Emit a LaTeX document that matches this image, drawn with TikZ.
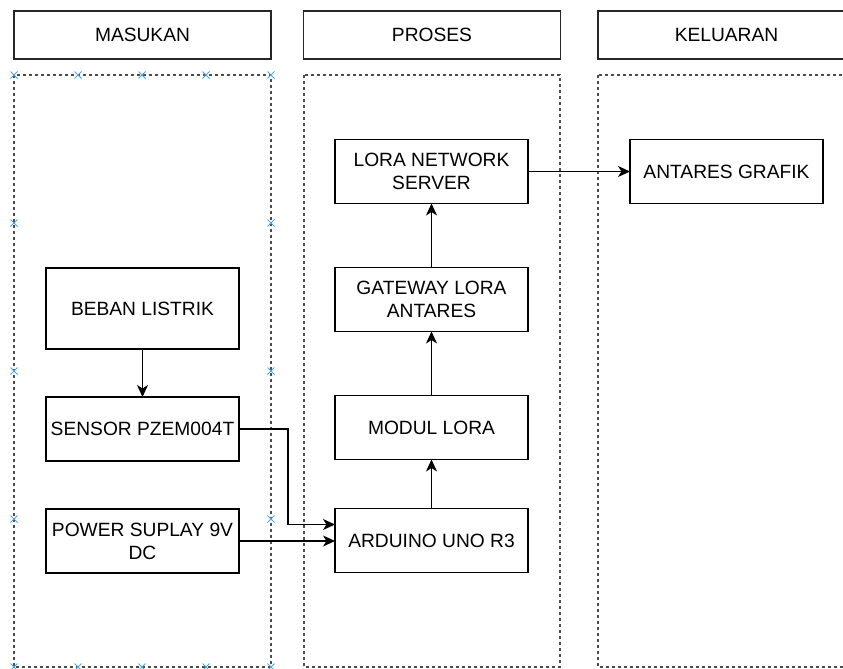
\documentclass[tikz,border=0pt]{standalone}
\usepackage{fontspec}
\setmainfont{Liberation Sans}
\usetikzlibrary{arrows.meta,positioning}

\begin{document}
\begin{tikzpicture}[x=1pt,y=-1pt,font=\fontsize{19.2}{23}\selectfont,node distance=64pt,
  head/.style={draw=black!85,line width=1.3pt,minimum width=257pt,minimum height=48pt,inner sep=0pt},
  box/.style={draw,line width=1.3pt,outer sep=0pt,minimum width=193pt,minimum height=64pt,align=center,inner sep=2pt},
  panel/.style={draw=black!70,line width=1.1pt,dash pattern=on 3pt off 3pt},
  arr/.style={line width=1.4pt,-{Stealth[length=12pt,width=11pt,inset=3.5pt]}},
  handle/.style={draw=cyan!70!blue!70,line width=0.9pt}]
\clip (0,0) rectangle (843,669);
\node[head] (masukan) at (142.5,35) {MASUKAN};
\node[head] (proses) at (432,35) {PROSES};
\node[head] (keluaran) at (726.5,35) {KELUARAN};
\draw[panel] (14,75) rectangle (271,667);
\draw[panel] (304,75) rectangle (560,667);
\draw[panel] (598,75) rectangle (860,667);
\foreach \x in {14,78,142,206,271}{
  \draw[handle] (\x-3.5,71.5) -- (\x+3.5,78.5) (\x-3.5,78.5) -- (\x+3.5,71.5);
  \draw[handle] (\x-3.5,663.5) -- (\x+3.5,670.5) (\x-3.5,670.5) -- (\x+3.5,663.5);
}
\foreach \y in {223,371,519}{
  \draw[handle] (10.5,\y-3.5) -- (17.5,\y+3.5) (10.5,\y+3.5) -- (17.5,\y-3.5);
  \draw[handle] (267.5,\y-3.5) -- (274.5,\y+3.5) (267.5,\y+3.5) -- (274.5,\y-3.5);
}
\node[box] (arduino) at (431.5,540.5) {ARDUINO UNO R3};
\node[box,above=49pt of arduino] (modul) {MODUL LORA};
\node[box,above=of modul] (gateway) {GATEWAY LORA\\ANTARES};
\node[box,above=of gateway] (server) {LORA NETWORK\\SERVER};
\node[box,right=102pt of server] (grafik) {ANTARES GRAFIK};
\node[box] (power) at (142.5,541) {POWER SUPLAY 9V\\DC};
\node[box,above=48pt of power] (sensor) {SENSOR PZEM004T};
\node[box,minimum height=81pt,above=48pt of sensor] (beban) {BEBAN LISTRIK};
\draw[arr] (beban) -- (sensor);
\draw[arr] (sensor.east) -- ++(49,0) |- ([yshift=16pt]arduino.west);
\draw[arr] (power.east) -- (power.east -| arduino.west);
\draw[arr] (arduino) -- (modul);
\draw[arr] (modul) -- (gateway);
\draw[arr] (gateway) -- (server);
\draw[arr] (server) -- (grafik);
\end{tikzpicture}
\end{document}
